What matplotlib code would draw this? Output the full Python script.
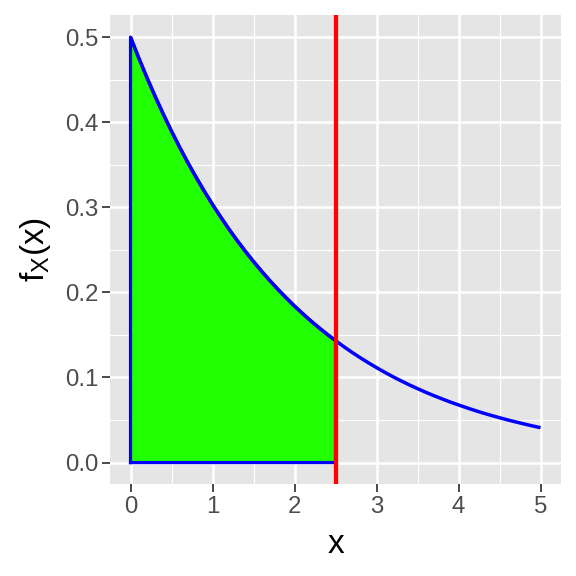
import matplotlib
matplotlib.use("Agg")
import matplotlib.pyplot as plt
from matplotlib.ticker import MultipleLocator

# density values (every 0.1)
x_vals = [round(0.1 * i, 1) for i in range(51)]
y_vals = [0.5000, 0.4756, 0.4524, 0.4304, 0.4094, 0.3894, 0.3704, 0.3523, 0.3352, 0.3188,
          0.3033, 0.2885, 0.2744, 0.2610, 0.2483, 0.2362, 0.2247, 0.2137, 0.2033, 0.1934,
          0.1839, 0.1750, 0.1664, 0.1583, 0.1506, 0.1433, 0.1363, 0.1296, 0.1233, 0.1173,
          0.1116, 0.1061, 0.1009, 0.0960, 0.0913, 0.0869, 0.0826, 0.0786, 0.0748, 0.0711,
          0.0677, 0.0644, 0.0612, 0.0582, 0.0554, 0.0527, 0.0501, 0.0477, 0.0454, 0.0431,
          0.0410]
cutoff = 2.5
x_ticks = [0, 1, 2, 3, 4, 5]
y_ticks = [0.0, 0.1, 0.2, 0.3, 0.4, 0.5]

plt.rcParams['font.family'] = ['Liberation Sans', 'DejaVu Sans']

fig = plt.figure(figsize=(6, 6), dpi=96)
ax = fig.add_axes([0.191, 0.160, 0.783, 0.814])
ax.set_facecolor('#e5e5e5')

# shaded region up to the cutoff
n = x_vals.index(cutoff) + 1
fx = x_vals[:n]
fy = y_vals[:n]
poly_x = [fx[0]] + fx + [fx[-1], fx[0]]
poly_y = [0] + fy + [0, 0]
ax.fill(poly_x, poly_y, facecolor='#22ff00', edgecolor='none', zorder=2)
ax.plot(poly_x, poly_y, color='blue', lw=2.4, zorder=3, solid_joinstyle='round')
ax.plot(x_vals, y_vals, color='blue', lw=2.6, zorder=3, solid_capstyle='butt')
ax.axvline(cutoff, color='red', lw=3.2, zorder=4)

ax.set_xlim(-0.25, 5.25)
ax.set_ylim(-0.025, 0.526)
ax.set_xticks(x_ticks)
ax.set_yticks(y_ticks)
ax.set_xticklabels([str(t) for t in x_ticks])
ax.set_yticklabels([f"{t:.1f}" for t in y_ticks])
ax.xaxis.set_minor_locator(MultipleLocator(0.5))
ax.yaxis.set_minor_locator(MultipleLocator(0.05))
ax.grid(which='major', color='white', lw=1.9, zorder=0)
ax.grid(which='minor', color='white', lw=0.9, zorder=0)
ax.set_axisbelow(True)
for s in ax.spines.values():
    s.set_visible(False)
ax.tick_params(which='major', length=6, width=1.3, color='#333333',
               labelsize=18, labelcolor='#4d4d4d', pad=3)
ax.tick_params(which='minor', length=0)

ax.set_xlabel('x', fontsize=25, labelpad=8)
ax.set_ylabel(r'f$_\mathregular{X}$(x)', fontsize=25, labelpad=9)

fig.savefig('out.png', dpi=96)
